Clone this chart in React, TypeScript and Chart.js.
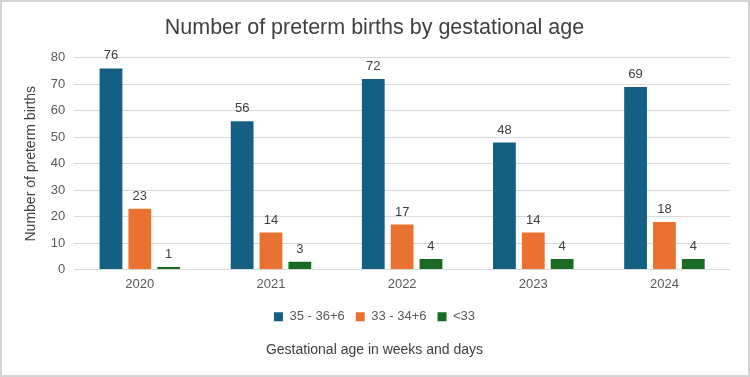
import React, { useEffect, useRef } from "react";
import { Chart, registerables } from "chart.js";

Chart.register(...registerables);

const categories = ["2020", "2021", "2022", "2023", "2024"];
const series1Label = "35 - 36+6";
const series2Label = "33 - 34+6";
const series3Label = "<33";
const series1 = [76, 56, 72, 48, 69];
const series2 = [23, 14, 17, 14, 18];
const series3 = [1, 3, 4, 4, 4];
const titleText = "Number of preterm births by gestational age";
const yTitle = "Number of preterm births";
const xTitle = "Gestational age in weeks and days";

const FONT = "'Liberation Sans', Arial, sans-serif";

const labelPlugin = {
  id: "barLabels",
  afterDatasetsDraw(chart: any) {
    const ctx = chart.ctx;
    ctx.save();
    ctx.font = `13px ${FONT}`;
    ctx.fillStyle = "#404040";
    ctx.textAlign = "center";
    ctx.textBaseline = "bottom";
    chart.data.datasets.forEach((ds: any, i: number) => {
      const meta = chart.getDatasetMeta(i);
      meta.data.forEach((bar: any, j: number) => {
        ctx.fillText(String(ds.data[j]), bar.x, bar.y - 6);
      });
    });
    ctx.restore();
  },
};

export default function App() {
  const ref = useRef<HTMLCanvasElement>(null);
  useEffect(() => {
    document.body.style.margin = "0";
    const chart = new Chart(ref.current!, {
      type: "bar",
      data: {
        labels: categories,
        datasets: [
          { label: series1Label, data: series1, backgroundColor: "#156082" },
          { label: series2Label, data: series2, backgroundColor: "#E97132" },
          { label: series3Label, data: series3, backgroundColor: "#196B24" },
        ],
      },
      options: {
        animation: false,
        responsive: false,
        maintainAspectRatio: false,
        layout: { padding: { left: 17, right: 18, top: 10, bottom: 10 } },
        datasets: {
          bar: { categoryPercentage: 0.66, barPercentage: 0.79 },
        } as any,
        scales: {
          x: {
            grid: { display: false, drawTicks: false },
            border: { display: false },
            ticks: { color: "#595959", font: { size: 13, family: FONT }, padding: 7 },
          },
          y: {
            min: 0,
            max: 80,
            ticks: { stepSize: 10, color: "#595959", font: { size: 13, family: FONT }, padding: 9 },
            grid: { color: "#d9d9d9", drawTicks: false },
            border: { display: false },
            title: {
              display: true,
              text: yTitle,
              color: "#404040",
              font: { size: 14, family: FONT },
              padding: { bottom: 2 },
            },
          },
        },
        plugins: {
          title: {
            display: true,
            text: titleText,
            color: "#404040",
            font: { size: 21.5, family: FONT, weight: "normal" },
            padding: { top: 3, bottom: 17 },
          },
          subtitle: {
            display: true,
            position: "bottom",
            text: xTitle,
            color: "#404040",
            font: { size: 14, family: FONT },
            padding: { top: 9, bottom: 6 },
          },
          legend: {
            position: "bottom",
            labels: {
              boxWidth: 9,
              boxHeight: 9,
              color: "#595959",
              font: { size: 13, family: FONT },
              padding: 11,
            },
          },
          tooltip: { enabled: false },
        },
      },
      plugins: [labelPlugin],
    });
    return () => chart.destroy();
  }, []);
  return (
    <div
      style={{
        width: 750,
        height: 377,
        boxSizing: "border-box",
        border: "2px solid #d4d4d4",
        background: "#fff",
      }}
    >
      <canvas ref={ref} width={746} height={373} style={{ display: "block" }} />
    </div>
  );
}
